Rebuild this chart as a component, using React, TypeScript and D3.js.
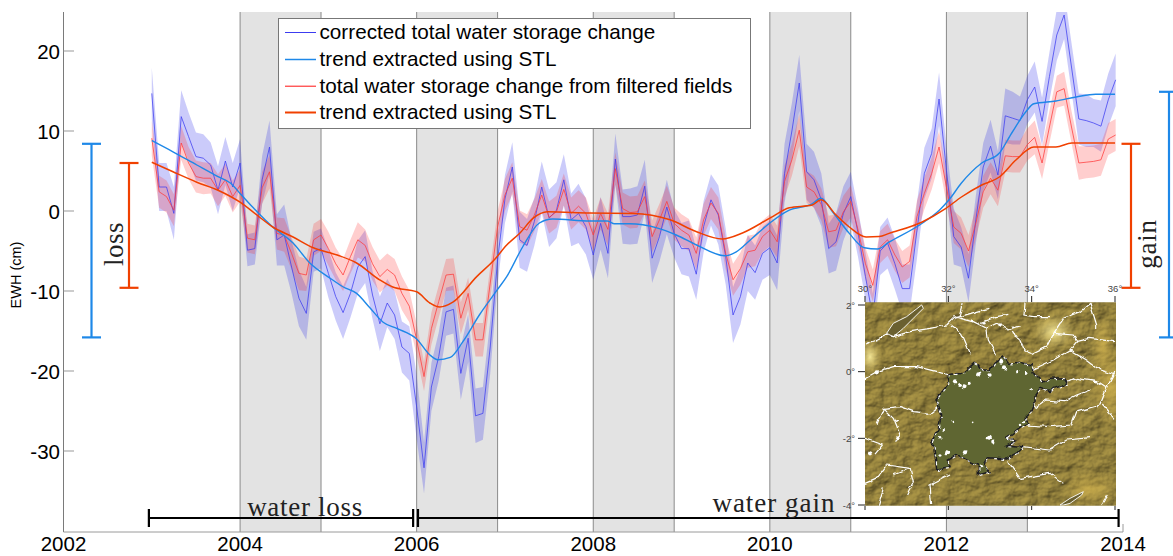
import React from "react";
import * as d3 from "d3";

const START_YEAR = 2003;
const corrected = [14.7,3.0,3.0,-0.3,11.8,9.3,6.8,6.6,5.75,2.6,6.25,3.0,6.0,-4.9,-4.7,3.9,8.0,-3.6,-3.0,-7.0,-10.9,-12.8,-5.1,-4.7,-7.8,-10.7,-12.7,-10.3,-7.0,-5.7,-10.5,-14.1,-11.5,-13.0,-17.0,-17.8,-24.5,-32.1,-22.0,-18.2,-12.6,-12.3,-20.3,-15.9,-25.6,-25.3,-17.0,-6.1,1.5,5.5,-3.6,-4.3,-1.3,3.0,-0.9,0.1,3.9,-1.1,-0.3,-1.95,-5.5,-1.55,-5.3,6.5,-0.7,-0.7,-0.5,3.1,-5.9,-3.2,0.5,-2.8,-4.7,-4.7,-7.9,-1.95,1.4,-0.5,-5.7,-13.0,-10.7,-6.5,-7.7,-5.3,-4.6,-6.5,4.7,10.0,16.0,4.9,3.9,1.4,-4.7,-3.85,-0.3,1.8,-2.8,-8.2,-13.3,-5.0,-4.0,-6.6,-9.7,-9.7,-2.4,4.7,7.2,14.0,5.1,-3.2,-4.5,-8.4,-1.1,5.5,8.1,4.5,11.9,11.6,11.3,13.9,15.5,11.2,16.8,22.0,24.5,18.0,11.5,11.3,11.0,10.6,13.9,16.4];
const filtered = [9.1,2.4,1.8,0.1,8.5,6.0,4.3,4.1,4.1,2.6,3.9,1.8,3.2,-3.4,-3.6,2.9,4.9,-2.8,-3.0,-5.3,-7.8,-8.0,-3.6,-3.0,-4.7,-6.6,-8.0,-5.7,-3.6,-4.3,-6.6,-8.2,-7.3,-8.0,-10.3,-11.9,-16.1,-20.7,-14.7,-11.3,-8.0,-7.9,-13.4,-10.3,-16.1,-16.1,-9.0,-2.0,2.0,4.1,-1.95,-2.4,-0.5,2.0,-0.8,-0.1,2.7,-0.3,0.6,-0.3,-3.0,-0.3,-2.3,5.3,0.3,-0.2,-0.1,1.8,-3.2,-1.1,1.2,-1.55,-2.4,-3.0,-5.3,-1.1,1.0,-0.3,-5.3,-8.6,-7.2,-5.1,-4.9,-3.2,-2.4,-3.85,3.7,6.4,10.1,3.0,2.4,0.8,-2.6,-2.4,-0.1,1.2,-2.4,-6.6,-9.3,-4.5,-3.6,-5.5,-7.0,-6.3,-0.7,2.2,4.7,8.0,3.0,-2.0,-2.8,-5.0,-1.5,2.4,4.1,2.6,6.9,6.8,6.8,8.3,9.2,6.0,10.5,14.9,15.3,10.5,6.0,6.1,6.2,6.4,9.0,9.5];
const correctedSpread = [3.2,3,3,3.3,3.3,3,3,3,2.8,3,3,3,3,2,2,3,3.3,3.2,3.8,3.3,3.5,3.3,2.5,2.5,3,3,3.3,3,3.3,3.3,3,3.4,3,3,3.2,3.4,4,3.2,3,3,3,3,3.3,3,3.4,3.3,3.3,3,3,3.1,3.5,3.3,3,3.2,3.6,3.5,3.2,3.3,3.7,3.5,3.1,3.3,3.1,3.2,3.4,3.5,3.6,3.3,3.1,3.1,3.4,3,3.2,3.5,3.2,3.2,3.2,3.7,3.5,3.5,3.5,3.5,3.4,3.3,3.4,3.4,3.7,3.5,3.5,3.5,3.5,3.3,3.1,3.6,3.4,3.1,3,3,3,3,3.2,3.2,3,3,3.5,3.2,3.1,3.3,3,3.5,2.5,3,3,3,3.3,3,3.4,3.3,3,3,3.2,3,3,3.2,3,3,3.2,3.3,3,3.2,3.3,3.3];
const filteredSpread = [2.2,2,2,2,2.1,2,2,2,1.9,2,2,2,2,1.8,1.8,2,2.1,2,2.1,2,2.1,2,2,2,2.1,2,2,2.1,2.2,2,2.1,2,2,2,2.1,2,2,1.8,2,2,2,2,2,2,2.1,2.1,2,2,2,2,2,2,2,2,2,2,2,2,2,2,2,2,2,2,2,2,2,2,2,2,2,2,2,2,2,2,2,2,2,2,2,2,2,2,2,2,2,2,2,2,2,2,2,2,2,2,2,2,2,2,2,2,2,2,2,2,2,2,2,2,2,2,2,2,2,2,2,2,2,2,2.1,2,2,2,2.1,2,2.1,2,2,2,2,2];

const trendBlueYears = [2003,2003.24,2003.51,2003.75,2003.89,2004,2004.15,2004.37,2004.6,2004.79,2005.02,2005.17,2005.32,2005.47,2005.62,2005.78,2006,2006.15,2006.24,2006.38,2006.52,2006.71,2006.91,2007.02,2007.2,2007.39,2007.54,2007.96,2008.16,2008.24,2008.41,2008.72,2008.94,2009.17,2009.49,2009.62,2009.8,2010,2010.22,2010.48,2010.58,2010.71,2010.9,2011.07,2011.22,2011.35,2011.73,2011.92,2012.03,2012.17,2012.4,2012.6,2012.74,2012.9,2012.99,2013.24,2013.47,2013.69,2013.91];
const trendBlue = [8.8,7.4,5.75,4.3,3.5,2.2,0.4,-2,-4,-6.5,-8.4,-9.5,-10.3,-12.1,-13.9,-14.7,-16,-18,-18.6,-18.3,-16.4,-13,-9.9,-8.2,-4.5,-1.5,-1,-1.25,-1.25,-1.6,-1.6,-2.1,-3,-4.25,-5.6,-5.1,-3.4,-1.5,0.1,0.9,1.6,-0.1,-2.8,-4.6,-4.75,-3.9,-1.5,0.1,1.4,3.5,6,7.25,9.75,12.4,13.4,13.75,14.25,14.6,14.6];
const trendRedYears = [2003,2003.24,2003.51,2003.75,2004,2004.19,2004.37,2004.6,2004.83,2005.1,2005.32,2005.58,2005.73,2006,2006.15,2006.26,2006.41,2006.68,2006.88,2007.02,2007.17,2007.32,2007.48,2007.96,2008.45,2008.87,2009.17,2009.46,2009.69,2010,2010.22,2010.48,2010.58,2010.75,2010.9,2011.09,2011.24,2011.35,2011.72,2011.99,2012.17,2012.4,2012.6,2012.79,2012.99,2013.24,2013.42,2013.91];
const trendRed = [6.1,4.9,3.6,2.6,1.1,-0.5,-2,-3.25,-4.6,-5.5,-6.5,-8.6,-9.5,-10.1,-11.5,-12,-11.4,-8.2,-6.1,-4.25,-2.75,-0.9,-0.1,-0.25,-0.3,-1.1,-2.6,-3.5,-2.75,-0.9,0.4,0.75,1.4,-0.5,-2,-3.25,-3.2,-2.8,-1.4,0.3,1.75,3.25,4.25,6.4,8,8,8.5,8.5];

const shadedYears = [2004,2006,2008,2010,2012];
const shadedLength = 11 / 12;
const yTicks = [20,10,0,-10,-20,-30];
const xTicks = [2002,2004,2006,2008,2010,2012,2014];
const legendLabels = ["corrected total water storage change","trend extracted using STL","total water storage change from filtered fields","trend extracted using STL"];
const lossRanges = { blue: [8.4,-15.8], red: [6.0,-9.6] };
const gainRanges = { blue: [14.9,-15.8], red: [8.4,-9.6] };
const periodSpans = [[2002.967,2005.96,"water loss"],[2006.015,2013.95,"water gain"]] as const;

const mapLonTicks = [30,32,34,36];
const mapLatTicks = [2,0,-2,-4];
const lakeOutline = [[290,305],[300,298],[340,295],[355,280],[372,265],[385,270],[395,285],[420,285],[432,265],[445,255],[460,243],[475,265],[510,262],[545,270],[550,295],[575,320],[600,310],[640,308],[652,325],[610,340],[600,350],[570,340],[555,360],[555,385],[545,410],[525,430],[540,445],[510,460],[485,480],[470,490],[495,498],[470,510],[520,515],[510,530],[470,552],[415,548],[405,565],[420,590],[385,600],[385,570],[350,555],[320,540],[295,555],[300,575],[260,582],[255,545],[250,510],[245,500],[265,460],[275,420],[265,390],[258,372],[285,340],[295,325]];
const smallLakes = [[[110,175],[130,145],[170,125],[215,90],[220,100],[190,130],[160,160],[130,185]],[[630,690],[660,670],[700,650],[695,660],[660,685],[640,690]]];
const rivers = [
[[45,210],[80,195],[110,180],[130,185],[180,170],[240,160],[290,150],[310,130],[330,125],[340,85]],
[[310,125],[370,140],[410,160],[440,145],[480,165],[510,155]],
[[330,125],[380,110],[415,100]],
[[385,145],[440,125],[475,118]],
[[300,150],[335,175],[350,210],[362,238]],
[[410,160],[415,195],[440,240]],
[[480,170],[510,190],[525,225],[550,235],[590,215],[610,175],[640,130],[690,110],[720,85],[740,150],[740,165]],
[[610,175],[670,180],[680,200],[720,190],[795,200]],
[[520,120],[550,125],[600,125]],
[[525,85],[522,120]],
[[545,285],[610,255],[660,225],[710,255],[750,285],[795,300]],
[[660,225],[680,200]],
[[45,310],[80,290],[130,275],[200,275],[260,290],[295,300]],
[[575,330],[660,320],[680,310],[740,320],[770,340],[795,290]],
[[770,340],[750,390],[680,410],[665,450],[600,455],[530,450]],
[[555,400],[590,375],[640,380],[680,360],[720,345]],
[[265,395],[240,415],[190,410],[150,395],[100,400],[80,450]],
[[100,400],[130,430],[150,480],[140,500]],
[[45,490],[100,510],[75,540]],
[[45,625],[80,610],[110,570],[180,580],[190,620],[170,660]],
[[100,640],[85,690]],
[[300,600],[240,630],[245,690]],
[[520,515],[600,525],[650,495],[720,488]],
[[475,560],[510,610],[600,595],[640,625]],
[[795,430],[760,390]],
[[180,580],[130,600]],
[[755,690],[775,660]],
];
const islands = [[315,322,5],[330,330,5],[345,335,6],[360,325,4],[385,298,5],[420,300,4],[455,262,6],[465,280,5],[500,290,4],[530,295,4],[545,342,3],[368,442,2],[310,440,2],[280,465,4],[270,490,3],[415,490,6],[430,500,5],[475,492,3],[290,530,6],[270,540,4],[345,532,5],[395,575,4],[145,490,5],[140,440,3],[60,535,5],[80,292,5],[450,150,4],[490,158,3],[400,145,3],[520,440,4],[510,450,3]];

const fmtPath = (pts: number[][], f: (p: number[]) => [number, number]) => d3.line<number[]>().x(p => f(p)[0]).y(p => f(p)[1])(pts) as string;

export default function App() {
  const x = d3.scaleLinear().domain([2002, 2014]).range([63.5, 1123]);
  const y = d3.scaleLinear().domain([0, -10]).range([211, 291]);
  const top = 12, bottom = 532;
  const xi = (i: number) => x(START_YEAR + i / 12);

  const band = (vals: number[], sp: number[]) =>
    d3.area<number>().x((_, i) => xi(i)).y0((v, i) => y(v - sp[i])).y1((v, i) => y(v + sp[i]))(vals) as string;
  const series = (vals: number[]) => d3.line<number>().x((_, i) => xi(i)).y(v => y(v))(vals) as string;
  const trend = (yrs: number[], vals: number[]) =>
    d3.line<number>().x((_, i) => x(yrs[i])).y(v => y(v)).curve(d3.curveMonotoneX)(vals) as string;

  const mx = d3.scaleLinear().domain([45, 798]).range([865, 1116]);
  const my = d3.scaleLinear().domain([82, 692]).range([302.3, 505.7]);
  const lonX = d3.scaleLinear().domain([30, 36]).range([865, 1115]);
  const latY = d3.scaleLinear().domain([2, -4]).range([305, 505]);
  const mp = (p: number[]): [number, number] => [mx(p[0]), my(p[1])];

  const blueC = "#1e88e8", redC = "#f04000", lineB = "#3c3cf0", lineR = "#ff3a3a";
  const legendColors = [[lineB, 1], [blueC, 1.5], ["#ff1010", 1], [redC, 2]] as const;
  const legendBase = [39, 66, 92.7, 119];

  const vBracket = (bx: number, r: number[], c: string, hw: number) => (
    <g stroke={c} strokeWidth={2.2} fill="none">
      <line x1={bx} x2={bx} y1={y(r[0])} y2={y(r[1])} />
      <line x1={bx - hw} x2={bx + hw} y1={y(r[0])} y2={y(r[0])} />
      <line x1={bx - hw} x2={bx + hw} y1={y(r[1])} y2={y(r[1])} />
    </g>
  );

  return (
    <svg width={1173} height={556} viewBox="0 0 1173 556" style={{ position: "absolute", left: 0, top: 0, display: "block", background: "#fff" }} fontFamily="'Liberation Sans', Arial, sans-serif">
      <defs>
        <filter id="terrain" x="0" y="0" width="100%" height="100%" colorInterpolationFilters="sRGB">
          <feTurbulence type="fractalNoise" baseFrequency="0.06 0.085" numOctaves={5} seed={7} result="n" />
          <feDiffuseLighting in="n" surfaceScale={2.2} diffuseConstant={1} lightingColor="#b09a48">
            <feDistantLight azimuth={225} elevation={55} />
          </feDiffuseLighting>
        </filter>
        <filter id="wiggle" x="-5%" y="-5%" width="110%" height="110%">
          <feTurbulence type="fractalNoise" baseFrequency="0.12" numOctaves={2} seed={3} result="w" />
          <feDisplacementMap in="SourceGraphic" in2="w" scale={5} xChannelSelector="R" yChannelSelector="G" />
        </filter>
        <radialGradient id="glow"><stop offset="0" stopColor="#fff2a0" stopOpacity={0.9} /><stop offset="1" stopColor="#e8d070" stopOpacity={0} /></radialGradient>
        <radialGradient id="glow2"><stop offset="0" stopColor="#d8b850" stopOpacity={0.7} /><stop offset="1" stopColor="#d8b850" stopOpacity={0} /></radialGradient>
        <clipPath id="mapClip"><rect x={865} y={302.3} width={251} height={203.4} /></clipPath>
        <clipPath id="plotClip"><rect x={64} y={top} width={1059} height={bottom - top} /></clipPath>
      </defs>

      {shadedYears.map(yr => (
        <g key={yr}>
          <rect x={x(yr)} y={top} width={x(yr + shadedLength) - x(yr)} height={bottom - top} fill="#e3e3e3" />
          <line x1={x(yr)} x2={x(yr)} y1={top} y2={bottom} stroke="#8a8a8a" strokeWidth={1} />
          <line x1={x(yr + shadedLength)} x2={x(yr + shadedLength)} y1={top} y2={bottom} stroke="#8a8a8a" strokeWidth={1} />
        </g>
      ))}

      <g clipPath="url(#plotClip)">
        <path d={band(corrected, correctedSpread)} fill="#1e1ee8" fillOpacity={0.23} />
        <path d={band(filtered, filteredSpread)} fill="#ff1e1e" fillOpacity={0.22} />
        <path d={series(corrected)} fill="none" stroke={lineB} strokeWidth={0.75} />
        <path d={series(filtered)} fill="none" stroke={lineR} strokeWidth={0.75} />
        <path d={trend(trendBlueYears, trendBlue)} fill="none" stroke={blueC} strokeWidth={1.4} />
        <path d={trend(trendRedYears, trendRed)} fill="none" stroke={redC} strokeWidth={1.5} />
      </g>

      <line x1={63.5} x2={63.5} y1={top} y2={bottom} stroke="#7a7a7a" />
      <line x1={63.5} x2={1123} y1={bottom} y2={bottom} stroke="#9a9a9a" />
      <line x1={1123} x2={1123} y1={bottom} y2={bottom - 8} stroke="#9a9a9a" />
      {yTicks.map(t => (
        <g key={t}>
          <line x1={63.5} x2={74} y1={y(t)} y2={y(t)} stroke="#999" />
          <text x={60} y={y(t) + 7.5} textAnchor="end" fontSize={20.5} fill="#000">{t}</text>
        </g>
      ))}
      {xTicks.map(t => (
        <text key={t} x={x(t)} y={551} textAnchor="middle" fontSize={20.5} fill="#000">{t}</text>
      ))}
      <text transform="translate(21,275) rotate(-90)" textAnchor="middle" fontSize={14.5} fill="#000">EWH (cm)</text>

      {vBracket(91.5, lossRanges.blue, blueC, 9.5)}
      {vBracket(129, lossRanges.red, redC, 9.5)}
      {vBracket(1169, gainRanges.blue, blueC, 10)}
      {vBracket(1131, gainRanges.red, redC, 9.5)}
      <text transform="translate(123,244) rotate(-90)" textAnchor="middle" fontSize={27} letterSpacing={0.5} fontFamily="'Liberation Serif', serif" fill="#222">loss</text>
      <text transform="translate(1156,244) rotate(-90)" textAnchor="middle" fontSize={27} letterSpacing={0.8} fontFamily="'Liberation Serif', serif" fill="#222">gain</text>

      <g stroke="#000" strokeWidth={2} fill="none">
        {periodSpans.map(([a, b]) => (
          <g key={a}>
            <line x1={x(a)} x2={x(b)} y1={518} y2={518} />
            <line x1={x(a)} x2={x(a)} y1={509} y2={527} strokeWidth={2.2} />
            <line x1={x(b)} x2={x(b)} y1={509} y2={527} strokeWidth={2.2} />
          </g>
        ))}
      </g>
      <text x={305} y={516} textAnchor="middle" fontSize={27} letterSpacing={0.7} fontFamily="'Liberation Serif', serif" fill="#222">{periodSpans[0][2]}</text>
      <text x={774} y={512} textAnchor="middle" fontSize={27} letterSpacing={1} fontFamily="'Liberation Serif', serif" fill="#222">{periodSpans[1][2]}</text>

      <rect x={278.5} y={18.5} width={472} height={110} fill="#fff" stroke="#777" />
      {legendLabels.map((l, i) => (
        <g key={i}>
          <line x1={285} x2={316} y1={legendBase[i] - 6.5} y2={legendBase[i] - 6.5} stroke={legendColors[i][0]} strokeWidth={legendColors[i][1]} />
          <text x={319.5} y={legendBase[i]} fontSize={20.7} fill="#000">{l}</text>
        </g>
      ))}

      <g clipPath="url(#mapClip)">
        <rect x={865} y={302.3} width={251} height={203.4} filter="url(#terrain)" />
        <ellipse cx={mx(612)} cy={my(170)} rx={22} ry={18} fill="url(#glow)" />
        <ellipse cx={mx(60)} cy={my(245)} rx={12} ry={18} fill="url(#glow)" />
        <ellipse cx={mx(780)} cy={my(340)} rx={22} ry={40} fill="url(#glow2)" />
        <ellipse cx={mx(760)} cy={my(215)} rx={12} ry={30} fill="url(#glow2)" />
        <ellipse cx={mx(720)} cy={my(640)} rx={30} ry={18} fill="url(#glow2)" />
        {smallLakes.map((s, i) => (
          <path key={i} d={fmtPath(s, mp) + "Z"} fill="#6a6030" stroke="#fff" strokeWidth={0.9} />
        ))}
        <g fill="none" stroke="#fff" strokeWidth={1.2} strokeLinejoin="round" filter="url(#wiggle)">
          {rivers.map((r, i) => <path key={i} d={fmtPath(r, mp)} />)}
        </g>
        <g filter="url(#wiggle)">
          <path d={fmtPath(lakeOutline, mp) + "Z"} fill="#5f6632" stroke="#1e1e22" strokeWidth={1.5} />
          <path d={fmtPath(lakeOutline, mp) + "Z"} fill="none" stroke="#fff" strokeWidth={1.1} strokeDasharray="3 5" transform="translate(0.6,0.6)" />
          {islands.map((c, i) => <circle key={i} cx={mx(c[0])} cy={my(c[1])} r={c[2] / 2.4} fill="#fff" />)}
        </g>
      </g>
      {mapLonTicks.map(t => (
        <g key={t}>
          <line x1={lonX(t)} x2={lonX(t)} y1={296} y2={302} stroke="#222" />
          <line x1={lonX(t)} x2={lonX(t)} y1={506} y2={510} stroke="#222" />
          <text x={lonX(t)} y={292} textAnchor="middle" fontSize={9.5} fill="#444">{t}°</text>
        </g>
      ))}
      {mapLatTicks.map(t => (
        <g key={t}>
          <line x1={858} x2={865} y1={latY(t)} y2={latY(t)} stroke="#222" />
          <text x={855} y={latY(t) + 3.5} textAnchor="end" fontSize={9.5} fill="#444">{t}°</text>
        </g>
      ))}
    </svg>
  );
}
